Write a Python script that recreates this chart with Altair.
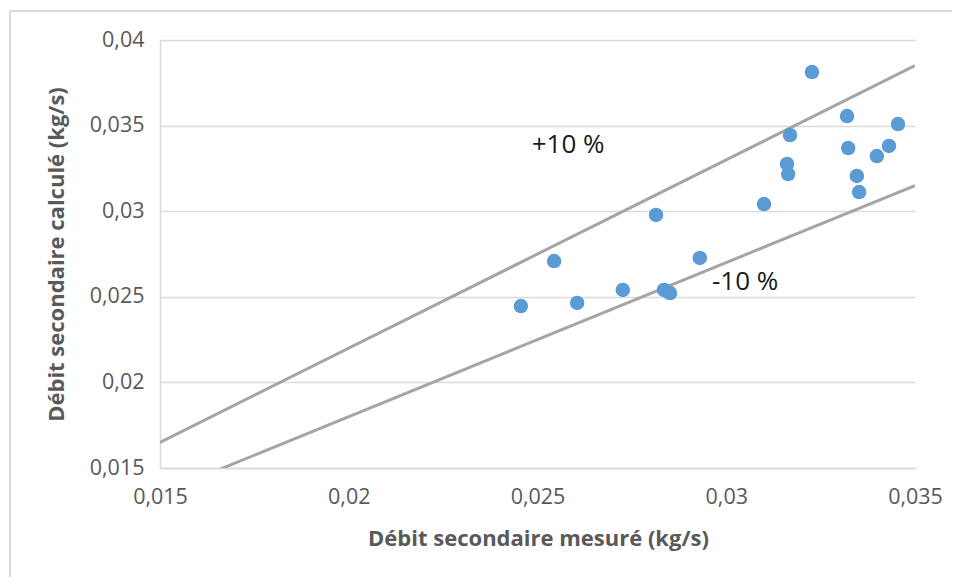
import altair as alt
import pandas as pd

# Measured vs computed secondary flow (kg/s)
mesure = [0.02456, 0.02544, 0.02605, 0.02726, 0.02814, 0.02835, 0.02851, 0.02930,
          0.03100, 0.03161, 0.03164, 0.03169, 0.03227, 0.03320, 0.03323, 0.03346,
          0.03352, 0.03399, 0.03431, 0.03455]
calcule = [0.02446, 0.02709, 0.02464, 0.02540, 0.02978, 0.02540, 0.02522, 0.02727,
           0.03042, 0.03276, 0.03217, 0.03445, 0.03813, 0.03556, 0.03369, 0.03206,
           0.03112, 0.03322, 0.03381, 0.03509]

# +/-10 % bounds
bound_x = [0.015, 0.035]
plus10_y = [0.0165, 0.0385]
minus10_y = [0.0135, 0.0315]

# annotation labels
label_text = ["+10 %", "-10 %"]
label_x = [0.02581, 0.03050]
label_y = [0.03387, 0.02586]

pts = pd.DataFrame({"x": mesure, "y": calcule})
lines = pd.DataFrame({
    "x": bound_x + bound_x,
    "y": plus10_y + minus10_y,
    "s": ["plus"] * 2 + ["minus"] * 2,
})
labels = pd.DataFrame({"t": label_text, "x": label_x, "y": label_y})

FONT = "Open Sans"
GREY = "#595959"
fmt = "replace(format(datum.value, '.3~f'), '.', ',')"

xscale = alt.Scale(domain=[0.015, 0.035], nice=False, zero=False)
yscale = alt.Scale(domain=[0.015, 0.04], nice=False, zero=False)

xaxis = alt.Axis(
    title="Débit secondaire mesuré (kg/s)",
    values=[0.015, 0.02, 0.025, 0.03, 0.035],
    labelExpr=fmt, grid=False, ticks=False,
    domainColor="#D9D9D9", domainWidth=1.5,
    labelFont=FONT, labelFontSize=21.5, labelColor=GREY, labelPadding=18,
    titleFont=FONT, titleFontSize=22, titleFontWeight="bold", titleColor=GREY,
    titleX=378, titleY=70, titleBaseline="middle", titleAlign="center",
    labelFlush=False,
)
yaxis = alt.Axis(
    title="Débit  secondaire calculé (kg/s)",
    values=[0.015, 0.02, 0.025, 0.03, 0.035, 0.04],
    labelExpr=fmt, grid=True, gridColor="#D9D9D9", gridWidth=1.5, ticks=False,
    domainColor="#D9D9D9", domainWidth=1.5,
    labelFont=FONT, labelFontSize=21.5, labelColor=GREY, labelPadding=16,
    titleFont=FONT, titleFontSize=22, titleFontWeight="bold", titleColor=GREY,
    titleX=-104, titleY=214, titleAngle=270, titleBaseline="middle", titleAlign="center",
    labelFlush=False,
)

base_pts = alt.Chart(pts).mark_circle(size=210, color="#5B9BD5", opacity=1).encode(
    x=alt.X("x:Q", scale=xscale, axis=xaxis),
    y=alt.Y("y:Q", scale=yscale, axis=yaxis),
)

bound_lines = alt.Chart(lines).mark_line(color="#A5A5A5", strokeWidth=3, clip=True).encode(
    x=alt.X("x:Q", scale=xscale),
    y=alt.Y("y:Q", scale=yscale),
    detail="s:N",
)

text = alt.Chart(labels).mark_text(font=FONT, fontSize=26, color="#1a1a1a", align="center",
                                   baseline="middle").encode(
    x=alt.X("x:Q", scale=xscale),
    y=alt.Y("y:Q", scale=yscale),
    text="t:N",
)

# Outer chart frame (decoration)
frame_top = alt.Chart(pd.DataFrame({"a": [0]})).mark_rule(color="#D9D9D9", strokeWidth=2).encode(
    x=alt.value(-150), x2=alt.value(820), y=alt.value(-29)
)
frame_left = alt.Chart(pd.DataFrame({"a": [0]})).mark_rule(color="#D9D9D9", strokeWidth=2).encode(
    x=alt.value(-150), y=alt.value(-29), y2=alt.value(600)
)

chart = alt.layer(frame_top, frame_left, bound_lines, base_pts, text).properties(
    width=755, height=428,
    autosize=alt.AutoSizeParams(type="none"),
    padding={"left": 152, "top": 32, "right": 37, "bottom": 109},
    background="white",
).configure_view(stroke=None)

chart.save("out.html", embed_options={"renderer": "svg", "actions": False})
